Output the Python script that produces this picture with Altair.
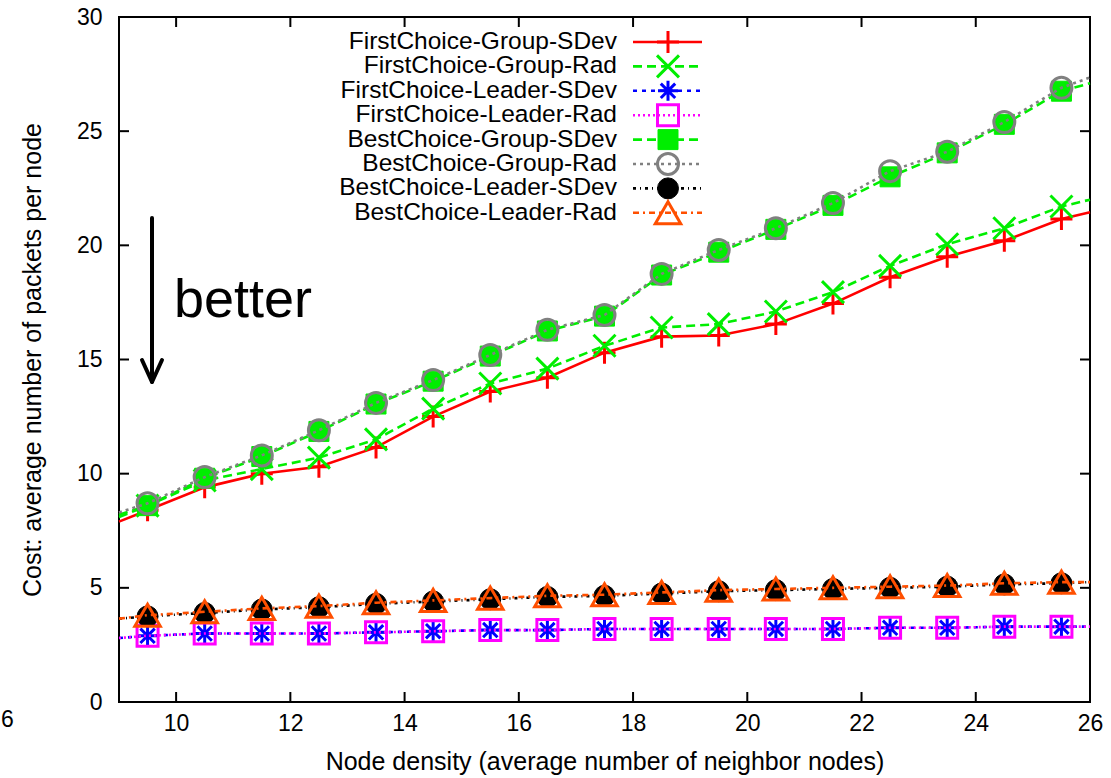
import altair as alt
import pandas as pd

# ---------------- data ----------------
x_points = [9.5, 10.5, 11.5, 12.5, 13.5, 14.5, 15.5, 16.5, 17.5, 18.5, 19.5, 20.5, 21.5, 22.5, 23.5, 24.5, 25.5]
x_edges = [9, 26]

series_names = [
    "FirstChoice-Group-SDev",
    "FirstChoice-Group-Rad",
    "FirstChoice-Leader-SDev",
    "FirstChoice-Leader-Rad",
    "BestChoice-Group-SDev",
    "BestChoice-Group-Rad",
    "BestChoice-Leader-SDev",
    "BestChoice-Leader-Rad",
]

fc_group_sdev = [8.4, 9.4, 10.0, 10.3, 11.15, 12.5, 13.6, 14.2, 15.3, 16.0, 16.05, 16.55, 17.45, 18.6, 19.5, 20.2, 21.15]
fc_group_rad = [8.6, 9.7, 10.2, 10.7, 11.5, 12.85, 13.95, 14.6, 15.6, 16.4, 16.55, 17.1, 17.95, 19.1, 20.05, 20.75, 21.7]
fc_leader_sdev = [2.9, 3.0, 3.0, 3.0, 3.05, 3.1, 3.15, 3.15, 3.2, 3.2, 3.2, 3.2, 3.2, 3.25, 3.25, 3.3, 3.3]
fc_leader_rad = [2.9, 3.0, 3.0, 3.0, 3.05, 3.1, 3.15, 3.15, 3.2, 3.2, 3.2, 3.2, 3.2, 3.25, 3.25, 3.3, 3.3]
bc_group_sdev = [8.6, 9.8, 10.75, 11.85, 13.05, 14.05, 15.15, 16.25, 16.9, 18.7, 19.7, 20.7, 21.75, 23.0, 24.05, 25.3, 26.75]
bc_group_rad = [8.7, 9.85, 10.8, 11.9, 13.1, 14.1, 15.2, 16.3, 16.95, 18.75, 19.8, 20.75, 21.85, 23.25, 24.1, 25.4, 26.9]
bc_leader_sdev = [3.75, 3.9, 4.05, 4.15, 4.3, 4.4, 4.5, 4.6, 4.65, 4.75, 4.85, 4.9, 4.95, 5.0, 5.05, 5.15, 5.2]
bc_leader_rad = [3.8, 3.95, 4.1, 4.2, 4.35, 4.45, 4.55, 4.65, 4.7, 4.8, 4.9, 4.95, 5.0, 5.05, 5.1, 5.2, 5.25]

# line values where the curves meet the plot border (x = 9 and x = 26)
edge_values = [
    [7.9, 21.45],
    [8.1, 22.0],
    [2.8, 3.3],
    [2.8, 3.3],
    [8.2, 27.1],
    [8.3, 27.35],
    [3.65, 5.25],
    [3.65, 5.25],
]

series_values = [fc_group_sdev, fc_group_rad, fc_leader_sdev, fc_leader_rad,
                 bc_group_sdev, bc_group_rad, bc_leader_sdev, bc_leader_rad]

x_ticks = [10, 12, 14, 16, 18, 20, 22, 24, 26]
y_ticks = [0, 5, 10, 15, 20, 25, 30]

x_title = "Node density (average number of neighbor nodes)"
y_title = "Cost: average number of packets per node"
annotation = "better"
stray_label = "6"

# ---------------- styles ----------------
FONT = "Liberation Sans"
W, H = 971, 685
GREEN = "#00ee00"
PLUS = "M-1,0L1,0M0,-1L0,1"
XSHAPE = "M-1,-1L1,1M-1,1L1,-1"
STAR = "M-1,0L1,0M0,-1L0,1M-0.72,-0.72L0.72,0.72M-0.72,0.72L0.72,-0.72"

styles = [
    dict(color="#ff0000", dash=None, shape=PLUS, filled=False, size=484),
    dict(color=GREEN, dash=[9, 5], shape=XSHAPE, filled=False, size=484),
    dict(color="#0000ff", dash=[4, 5], shape=STAR, filled=False, size=400),
    dict(color="#ff00ff", dash=[2, 3], shape="square", filled=False, size=441),
    dict(color=GREEN, dash=[9, 5], shape="square", filled=True, size=400),
    dict(color="#808080", dash=[3, 4], shape="circle", filled=False, size=441),
    dict(color="#000000", dash=[3, 4, 1, 4], shape="circle", filled=True, size=441),
    dict(color="#ff4f00", dash=[6, 4, 2, 4], shape="triangle-up", filled=False, size=650),
]

xs = alt.Scale(domain=[9, 26], nice=False, zero=False)
ys = alt.Scale(domain=[0, 30], nice=False, zero=False)

x_axis = alt.Axis(values=x_ticks, tickSize=0, domain=False, grid=False,
                  labelFont=FONT, labelFontSize=23, labelColor="black",
                  labelPadding=10, labelFlush=False, labelOverlap=False,
                  title=x_title, titleFont=FONT, titleFontSize=25,
                  titleFontWeight="normal", titleColor="black",
                  titleY=59, titleBaseline="middle")
y_axis = alt.Axis(values=y_ticks, tickSize=0, domain=False, grid=False,
                  labelFont=FONT, labelFontSize=23, labelColor="black",
                  labelPadding=17, labelFlush=False, labelOverlap=False,
                  title=y_title, titleFont=FONT, titleFontSize=25,
                  titleFontWeight="normal", titleColor="black",
                  titleX=-87, titleY=H / 2, titleAlign="center",
                  titleBaseline="middle", titleAngle=-90)


def X(field):
    return alt.X(field, scale=xs, axis=x_axis)


def Y(field):
    return alt.Y(field, scale=ys, axis=y_axis)


def point_mark(st):
    kw = dict(shape=st["shape"], size=st["size"], opacity=1)
    if st["filled"]:
        kw.update(filled=True, fill=st["color"], stroke=st["color"], strokeWidth=1)
    else:
        kw.update(filled=False, stroke=st["color"], strokeWidth=3)
    return kw


def line_kw(st):
    kw = dict(color=st["color"], strokeWidth=2.6)
    if st["dash"]:
        kw["strokeDash"] = st["dash"]
    return kw


layers = []

# inward tick marks on all four sides
xt = pd.DataFrame({"v": x_ticks})
yt = pd.DataFrame({"v": y_ticks})
tick_kw = dict(color="black", strokeWidth=2)
layers.append(alt.Chart(xt).mark_rule(**tick_kw).encode(
    x=X("v:Q"), y=alt.value(H), y2=alt.value(H - 10)))
layers.append(alt.Chart(xt).mark_rule(**tick_kw).encode(
    x=X("v:Q"), y=alt.value(0), y2=alt.value(10)))
layers.append(alt.Chart(yt).mark_rule(**tick_kw).encode(
    y=Y("v:Q"), x=alt.value(0), x2=alt.value(10)))
layers.append(alt.Chart(yt).mark_rule(**tick_kw).encode(
    y=Y("v:Q"), x=alt.value(W), x2=alt.value(W - 10)))

# data series
for name, vals, edges, st in zip(series_names, series_values, edge_values, styles):
    line_df = pd.DataFrame({"x": [x_edges[0]] + x_points + [x_edges[1]],
                            "y": [edges[0]] + vals + [edges[1]]})
    pt_df = pd.DataFrame({"x": x_points, "y": vals})
    layers.append(alt.Chart(line_df).mark_line(**line_kw(st)).encode(
        x=X("x:Q"), y=Y("y:Q"), order="x:Q"))
    layers.append(alt.Chart(pt_df).mark_point(**point_mark(st)).encode(
        x=X("x:Q"), y=Y("y:Q")))

# legend (gnuplot style: label right-aligned, then line sample with marker)
for i, (name, st) in enumerate(zip(series_names, styles)):
    ry = 25 + i * 24.4
    one = pd.DataFrame({"label": [name]})
    layers.append(alt.Chart(one).mark_text(align="right", baseline="middle", font=FONT,
                                           fontSize=24.5, color="black").encode(
        x=alt.value(498), y=alt.value(ry), text="label:N"))
    layers.append(alt.Chart(one).mark_rule(**line_kw(st)).encode(
        x=alt.value(514), x2=alt.value(583), y=alt.value(ry)))
    layers.append(alt.Chart(one).mark_point(**point_mark(st)).encode(
        x=alt.value(549), y=alt.value(ry)))

# "better" arrow annotation
one = pd.DataFrame({"label": [annotation]})
arrow_kw = dict(color="black", strokeWidth=4, strokeCap="round")
layers.append(alt.Chart(one).mark_rule(**arrow_kw).encode(
    x=alt.value(33), x2=alt.value(33), y=alt.value(201), y2=alt.value(364)))
layers.append(alt.Chart(one).mark_rule(**arrow_kw).encode(
    x=alt.value(23), x2=alt.value(33), y=alt.value(343), y2=alt.value(365)))
layers.append(alt.Chart(one).mark_rule(**arrow_kw).encode(
    x=alt.value(43), x2=alt.value(33), y=alt.value(343), y2=alt.value(365)))
layers.append(alt.Chart(one).mark_text(align="left", baseline="alphabetic", font=FONT,
                                       fontSize=54, color="black").encode(
    x=alt.value(55), y=alt.value(300), text="label:N"))

# stray label at lower left of the original figure
stray = pd.DataFrame({"label": [stray_label]})
layers.append(alt.Chart(stray).mark_text(align="left", baseline="middle", font=FONT,
                                         fontSize=23, color="black").encode(
    x=alt.value(-118), y=alt.value(703), text="label:N"))

chart = alt.layer(*layers).properties(
    width=W, height=H,
    autosize=alt.AutoSizeParams(type="none"),
    padding={"left": 119, "top": 17, "right": 21, "bottom": 76},
).configure(background="white").configure_view(stroke="black", strokeWidth=2)

chart.save("out.html", embed_options={"renderer": "svg", "actions": False})
